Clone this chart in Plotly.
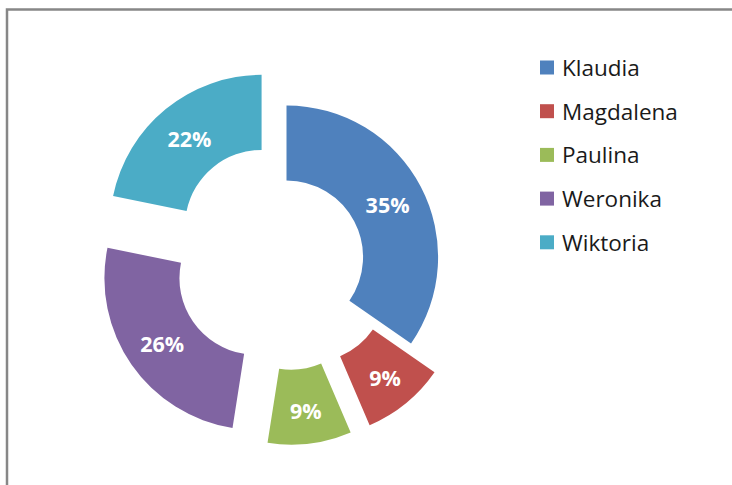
import plotly.graph_objects as go

# Share of each person
names = ["Klaudia", "Magdalena", "Paulina", "Weronika", "Wiktoria"]
values = [35, 9, 9, 26, 22]
colors = ["#4F81BD", "#C0504D", "#9BBB59", "#8064A2", "#4BACC6"]
pulls = [0, 0.245, 0.24, 0.245, 0.26]

W, H = 732, 485

fig = go.Figure(
    go.Pie(
        labels=names,
        values=values,
        hole=0.505,
        sort=False,
        direction="clockwise",
        rotation=0,
        pull=pulls,
        marker=dict(colors=colors, line=dict(width=0)),
        texttemplate="%{percent:.0%}",
        textposition="inside",
        insidetextorientation="horizontal",
        textfont=dict(family="Open Sans", size=21.5, color="white", weight="bold"),
        showlegend=False,
        domain=dict(x=[95.5 / W, 477.5 / W], y=[37 / H, 419 / H]),
    )
)

# Hand-placed legend: colour square + label for every slice
shapes = []
annotations = []
row0, step = 67.5, 43.7
for i, (name, col) in enumerate(zip(names, colors)):
    yc = row0 + i * step
    shapes.append(dict(
        type="rect", xref="paper", yref="paper",
        x0=540 / W, x1=554 / W, y0=1 - (yc - 7) / H, y1=1 - (yc + 7) / H,
        fillcolor=col, line=dict(width=0),
    ))
    annotations.append(dict(
        text=name, xref="paper", yref="paper", x=560 / W, y=1 - yc / H,
        xanchor="left", yanchor="middle", showarrow=False,
        font=dict(family="Open Sans", size=22.5, color="#1a1a1a"),
    ))

# Chart frame (top and left edges)
shapes.append(dict(
    type="path", xref="paper", yref="paper",
    path=f"M {7 / W} 0 L {7 / W} {1 - 9.5 / H} L 1 {1 - 9.5 / H}",
    line=dict(color="#878787", width=2.5),
))

fig.update_layout(
    width=W, height=H,
    margin=dict(l=0, r=0, t=0, b=0),
    paper_bgcolor="white",
    plot_bgcolor="white",
    shapes=shapes,
    annotations=annotations,
)

fig.write_html("out.html")
